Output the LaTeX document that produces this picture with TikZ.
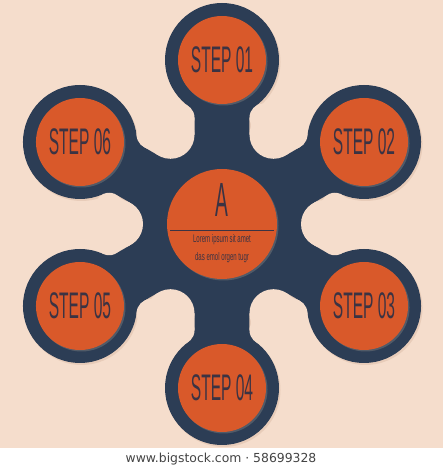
\documentclass[tikz,border=0pt]{standalone}
\usepackage{fontspec}
\setmainfont{Liberation Sans}
\newfontfamily\footfont{DejaVu Sans}
\usetikzlibrary{calc,shadows}
\definecolor{peach}{HTML}{F5DDCC}
\definecolor{peachshade}{HTML}{E8CCB9}
\definecolor{navy}{HTML}{2C3D55}
\definecolor{rust}{HTML}{D9592A}
\definecolor{ink}{HTML}{3B3343}
\definecolor{footgray}{HTML}{444444}

\begin{document}
\begin{tikzpicture}[x=1pt,y=1pt,
	orangedisc/.style={circle,fill=rust,inner sep=0pt,text=ink,
		drop shadow={shadow xshift=1.5pt,shadow yshift=-1.5pt,opacity=.45}},
	stepdisc/.style={orangedisc,minimum size=88pt,font=\fontsize{37}{37}\selectfont},
	hubdisc/.style={orangedisc,minimum size=110pt},
	hubtext/.style={text=ink,inner sep=0pt,font=\fontsize{11}{11}\selectfont}]
	\useasboundingbox (0,0) rectangle (443,470);
	\fill [white] (0,0) rectangle (443,22);
	\fill [peach] (0,22) rectangle (443,470);
	\coordinate (c) at (222,246);
	\foreach \i in {1,...,6}
		\coordinate (s\i) at ($(c)+({150-60*\i}:164)$);
	% navy body with straight arms and rounded notches, first its shadow
	\foreach \dx/\dy/\body in {1.5/-2/peachshade,0/0/navy}{
		\coordinate (o) at ($(c)+(\dx,\dy)$);
		\fill [\body] ($(o)+(107.13:93.34)$) \foreach \t in {90,30,...,-210}{
			-- ($(o)+({\t+17.13}:93.34)$) -- ($(o)+({\t+14.49}:109.89)$) -- ($(o)+({\t+15.8}:122.37)$)
			-- ($(o)+({\t-15.8}:122.37)$) -- ($(o)+({\t-14.49}:109.89)$) -- ($(o)+({\t-17.13}:93.34)$)} -- cycle;
		\foreach \t in {90,30,...,-210}
			\fill [\body] ($(o)+(\t:164)$) circle (57);
		\foreach \t in {90,30,...,-210}{
			\fill [peach] ($(o)+({\t-30}:103)$) circle (24);
			\fill [peach] ($(o)+({\t+21.31}:114.2)$) circle (14);
			\fill [peach] ($(o)+({\t-21.31}:114.2)$) circle (14);
		}
	}
	\node [hubdisc] (hub) at (c) {};
	\foreach \i in {1,...,6}
		\node [stepdisc] (step\i) at (s\i) {\scalebox{.42}[1]{STEP 0\i}};
	\node [text=ink,inner sep=0pt,font=\fontsize{48}{48}\selectfont] (letter) at ($(hub)+(0,24)$) {\scalebox{.4}[1]{A}};
	\draw [ink,line width=.8pt] ($(hub)+(-52,-6)$) -- ($(hub)+(52,-6)$);
	\node [hubtext] (lineone) at ($(hub)+(0,-16)$) {\scalebox{.55}[1]{Lorem ipsum sit amet}};
	\node [hubtext] (linetwo) at ($(hub)+(0,-34)$) {\scalebox{.55}[1]{das emol orgen tugr}};
	\node [text=footgray,font=\footfont\fontsize{12.4}{12.4}\selectfont] (credit) at (221,11) {www.bigstock.com · 58699328};
\end{tikzpicture}
\end{document}
